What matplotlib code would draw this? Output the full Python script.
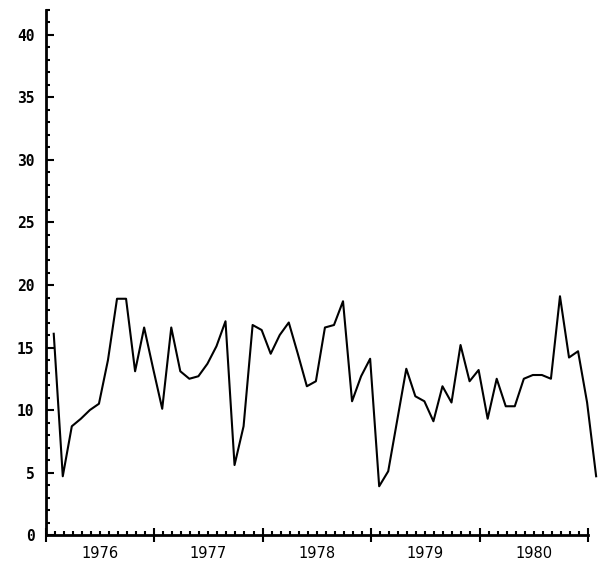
import numpy as np
import matplotlib
matplotlib.use('Agg')
import matplotlib.pyplot as plt
from matplotlib.ticker import MultipleLocator
import matplotlib.transforms as mtransforms

# monthly values, Jan 1976 .. Jan 1981
values = [16.1, 4.7, 8.7, 9.3, 10.0, 10.5, 14.0, 18.9, 18.9, 13.1,
          16.6, 13.3, 10.1, 16.6, 13.1, 12.5, 12.7, 13.7, 15.1, 17.1,
          5.6, 8.7, 16.8, 16.4, 14.5, 16.0, 17.0, 14.5, 11.9, 12.3,
          16.6, 16.8, 18.7, 10.7, 12.7, 14.1, 3.9, 5.1, 9.2, 13.3,
          11.1, 10.7, 9.1, 11.9, 10.6, 15.2, 12.3, 13.2, 9.3, 12.5,
          10.3, 10.3, 12.5, 12.8, 12.8, 12.5, 19.1, 14.2, 14.7, 10.6,
          4.7]
years = [1976, 1977, 1978, 1979, 1980]
year_labels = ['1976', '1977', '1978', '1979', '1980']
y_ticks = [0, 5, 10, 15, 20, 25, 30, 35, 40]

# month-end positions in decimal years
months = np.arange(len(values))
x = years[0] + (months + 0.9) / 12.0

fig = plt.figure(figsize=(6.0, 5.67), dpi=100)
ax = fig.add_axes([0.076, 0.0564, 0.904, 0.926])

ax.plot(x, values, color='black', linewidth=1.5, clip_on=False)

ax.set_xlim(years[0], years[-1] + 1)
ax.set_ylim(0, 42)

for side in ['top', 'right']:
    ax.spines[side].set_visible(False)
for side in ['left', 'bottom']:
    ax.spines[side].set_linewidth(2)

# y axis: major every 5, minor every 1, ticks pointing in
ax.set_yticks(y_ticks)
ax.yaxis.set_minor_locator(MultipleLocator(1))
ax.tick_params(axis='y', which='major', direction='in', length=6, width=1.5, pad=8)
ax.tick_params(axis='y', which='minor', direction='in', length=3, width=1.5)
for lab in ax.get_yticklabels():
    lab.set_family('DejaVu Sans Mono')
    lab.set_fontweight('bold')
    lab.set_fontsize(10.5)

# x axis: year boundaries as big ticks, months as small ticks
ax.set_xticks(years + [years[-1] + 1])
ax.set_xticklabels([])
ax.xaxis.set_minor_locator(MultipleLocator(1 / 12))
ax.tick_params(axis='x', which='major', direction='inout', length=10, width=1.5)
ax.tick_params(axis='x', which='minor', direction='in', length=3, width=1.5)

trans = mtransforms.blended_transform_factory(ax.transData, ax.transAxes)
for yr, lab in zip(years, year_labels):
    ax.annotate(lab, xy=(yr + 0.5, 0), xycoords=trans,
                xytext=(0, -8), textcoords='offset points',
                ha='center', va='top', fontsize=10.5)

fig.savefig('out.png', dpi=100)
